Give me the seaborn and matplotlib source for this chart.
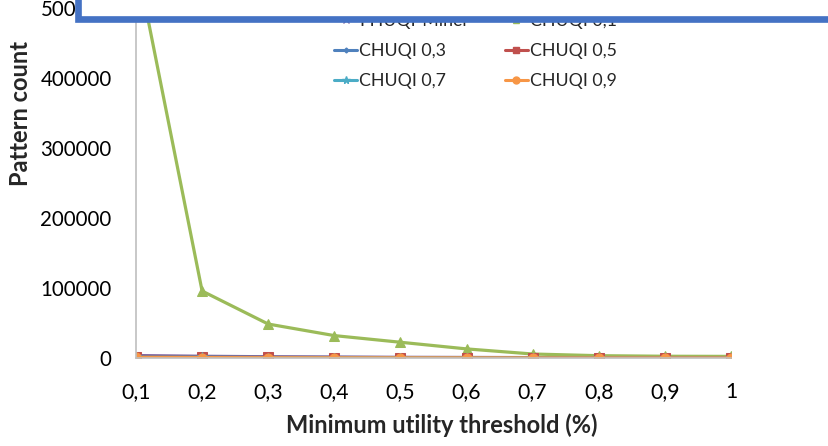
import matplotlib
matplotlib.use("Agg")
import matplotlib.pyplot as plt
from matplotlib.lines import Line2D
from matplotlib.patches import Rectangle
import seaborn as sns
import pandas as pd
import numpy as np

categories = ["0,1", "0,2", "0,3", "0,4", "0,5", "0,6", "0,7", "0,8", "0,9", "1"]
phuqi_miner = [3500, 2500, 1800, 1400, 1000, 800, 600, 500, 400, 300]
chuqi_01 = [570000, 95700, 48500, 32000, 22500, 13000, 5700, 3300, 2500, 2300]
chuqi_03 = [2000, 1500, 1000, 800, 500, 400, 300, 200, 150, 100]
chuqi_05 = [1500, 1000, 800, 600, 400, 300, 200, 150, 100, 80]
chuqi_07 = [1000, 800, 600, 400, 300, 200, 150, 100, 80, 60]
chuqi_09 = [800, 600, 400, 300, 200, 150, 100, 80, 60, 50]
y_ticks = [0, 100000, 200000, 300000, 400000, 500000]

series_names = ["PHUQI-Miner", "CHUQI 0,1", "CHUQI 0,3", "CHUQI 0,5", "CHUQI 0,7", "CHUQI 0,9"]
series_values = [phuqi_miner, chuqi_01, chuqi_03, chuqi_05, chuqi_07, chuqi_09]
colors = {"PHUQI-Miner": "#8064A2", "CHUQI 0,1": "#9BBB59", "CHUQI 0,3": "#4F81BD",
          "CHUQI 0,5": "#C0504D", "CHUQI 0,7": "#4BACC6", "CHUQI 0,9": "#F79646"}
markers = {"PHUQI-Miner": "x", "CHUQI 0,1": "^", "CHUQI 0,3": "D",
           "CHUQI 0,5": "s", "CHUQI 0,7": "*", "CHUQI 0,9": "o"}
msizes = {"PHUQI-Miner": 6, "CHUQI 0,1": 6.5, "CHUQI 0,3": 4,
          "CHUQI 0,5": 6.5, "CHUQI 0,7": 7, "CHUQI 0,9": 6.5}

rows = []
for name, vals in zip(series_names, series_values):
    for i, v in enumerate(vals):
        rows.append({"series": name, "pos": i, "count": v})
df = pd.DataFrame(rows)

sns.set_theme(style="white")
plt.rcParams["font.family"] = ["Lato", "DejaVu Sans"]

W, H = 829, 446
fig = plt.figure(figsize=(W / 100, H / 100), dpi=100)
left_px, right_px, top_px, bot_px = 136, 731, 8, 358
ax = fig.add_axes([left_px / W, 1 - bot_px / H, (right_px - left_px) / W, (bot_px - top_px) / H])

for name in series_names:
    sub = df[df["series"] == name]
    sns.lineplot(data=sub, x="pos", y="count", ax=ax, color=colors[name],
                 marker=markers[name], markersize=msizes[name], linewidth=2.3,
                 markeredgecolor=colors[name], sort=False, legend=False)

ax.set_xlim(0, len(categories) - 1)
ax.set_ylim(0, 500000)
ax.set_xticks(range(len(categories)))
ax.set_xticklabels(categories)
ax.set_yticks(y_ticks)
ax.set_yticklabels([str(t) for t in y_ticks])
ax.tick_params(axis="x", labelsize=15.3, colors="#000000", direction="out",
               length=5, width=1, color="#A6A6A6", pad=12)
ax.tick_params(axis="y", labelsize=14.8, colors="#000000", direction="out",
               length=5, width=1, color="#A6A6A6", pad=12.5)
for sp in ["top", "right"]:
    ax.spines[sp].set_visible(False)
ax.spines["left"].set_color("#BFBFBF")
ax.spines["left"].set_linewidth(1.2)
ax.spines["bottom"].set_color("#BFBFBF")
ax.spines["bottom"].set_linewidth(1.2)
ax.set_xlabel("Minimum utility threshold (%)", fontsize=17, fontweight="bold")
ax.set_ylabel("Pattern count", fontsize=17, fontweight="bold")
ax.xaxis.set_label_coords((442 - left_px) / (right_px - left_px), -(425 - bot_px) / (bot_px - top_px))
ax.xaxis.label.set_verticalalignment("center")
ax.yaxis.set_label_coords(-(left_px - 21) / (right_px - left_px), (bot_px - 113) / (bot_px - top_px))
ax.yaxis.label.set_verticalalignment("center")
ax.grid(False)

# legend (column-major order for ncol=2)
order = ["PHUQI-Miner", "CHUQI 0,3", "CHUQI 0,7", "CHUQI 0,1", "CHUQI 0,5", "CHUQI 0,9"]
handles = [Line2D([], [], color=colors[n], marker=markers[n], markersize=msizes[n] - 1.5,
                  markeredgecolor=colors[n], linewidth=2.2) for n in order]
fig.legend(handles, order, loc="upper left", bbox_to_anchor=(334 / W, 1 - 13 / H),
           bbox_transform=fig.transFigure, ncol=2, frameon=False, fontsize=12.8,
           handlelength=1.3, handletextpad=0.12, columnspacing=2.0, labelspacing=0.8,
           borderpad=0, borderaxespad=0)

# overlapping shape at the top
rect = Rectangle((78 / W, 1 - 19 / H), 1.2, 0.5, transform=fig.transFigure,
                 facecolor="white", edgecolor="#4472C4", linewidth=4.8, zorder=20)
fig.add_artist(rect)

fig.savefig("out.png", dpi=100)
